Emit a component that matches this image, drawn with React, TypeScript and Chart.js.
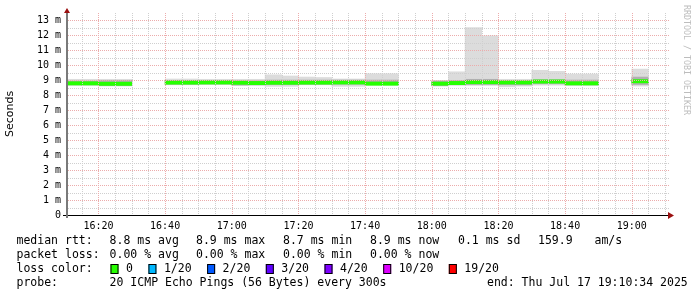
import { useEffect, useRef } from 'react';
import { Chart, registerables } from 'chart.js';
Chart.register(...registerables);

// 5-minute bins that hold data (gaps are simply absent)
const binStarts = ['16:10','16:15','16:20','16:25','16:40','16:45','16:50','16:55','17:00','17:05','17:10','17:15','17:20','17:25','17:30','17:35','17:40','17:45','18:00','18:05','18:10','18:15','18:20','18:25','18:30','18:35','18:40','18:45','19:00'];
const smokeMax  = [9.05,9.05,9.05,9.05,9.07,9.07,9.05,9.05,9.05,9.05,9.35,9.27,9.20,9.17,9.07,9.07,9.42,9.42,8.98,9.55,12.50,11.95,9.05,9.05,9.65,9.58,9.40,9.40,9.73];
const bandHigh  = [8.93,8.93,8.98,8.98,8.98,8.98,8.97,8.97,8.95,8.95,9.00,9.00,9.00,9.00,9.00,9.00,9.00,9.00,8.93,8.98,9.05,9.05,8.95,8.95,9.02,9.02,9.00,9.00,9.20];
const medianRtt = [8.78,8.78,8.75,8.75,8.83,8.83,8.84,8.84,8.82,8.80,8.82,8.82,8.83,8.83,8.84,8.84,8.76,8.76,8.76,8.80,8.86,8.86,8.84,8.84,8.90,8.90,8.78,8.78,8.92];
const bandLow   = [8.68,8.68,8.63,8.63,8.72,8.72,8.74,8.74,8.66,8.68,8.70,8.70,8.72,8.72,8.72,8.72,8.70,8.70,8.62,8.70,8.70,8.70,8.68,8.68,8.75,8.75,8.68,8.68,8.70];
const smokeMin  = [8.65,8.65,8.60,8.60,8.68,8.68,8.70,8.70,8.64,8.64,8.58,8.58,8.68,8.68,8.58,8.58,8.66,8.66,8.60,8.64,8.64,8.64,8.55,8.60,8.66,8.66,8.64,8.64,8.60];

const xTickLabels = ['16:20','16:40','17:00','17:20','17:40','18:00','18:20','18:40','19:00'];
const yTickValues = [0,1,2,3,4,5,6,7,8,9,10,11,12,13];
const rangeStart = '16:10:34';
const rangeEnd = '19:10:34';
const yMax = 13.47;

const rttStats = ['8.8 ms avg','8.9 ms max','8.7 ms min','8.9 ms now','0.1 ms sd','159.9','am/s'];
const lossStats = ['0.00 % avg','0.00 % max','0.00 % min','0.00 % now'];
const lossLabels = ['0','1/20','2/20','3/20','4/20','10/20','19/20'];
const lossColors = ['#26ff00','#00b8ff','#0059ff','#5e00ff','#7e00ff','#dd00ff','#ff0000'];
const probeText = '20 ICMP Echo Pings (56 Bytes) every 300s';
const endText = 'end: Thu Jul 17 19:10:34 2025';

const toMin = (s: string) => {
  const p = s.split(':').map(Number);
  return p[0] * 60 + p[1] + (p[2] || 0) / 60;
};
const fmt = (v: number) => {
  const h = Math.floor(v / 60);
  const m = Math.round(v - h * 60);
  return `${String(h).padStart(2, '0')}:${String(m).padStart(2, '0')}`;
};

const BIN = 5;
const MEDIAN_HALF = 0.11;
const MONO = '"DejaVu Sans Mono", monospace';

const decor = {
  id: 'decor',
  beforeDraw(chart: any) {
    const ctx = chart.ctx;
    ctx.save();
    ctx.fillStyle = '#ffffff';
    ctx.fillRect(0, 0, chart.width, chart.height);
    ctx.restore();
  },
  afterDatasetsDraw(chart: any) {
    const ctx = chart.ctx;
    const { left, right, top, bottom } = chart.chartArea;
    const xs = chart.scales.x;
    const ys = chart.scales.y;
    const t0 = toMin(rangeStart), t1 = toMin(rangeEnd);
    const L = Math.round(left), T = Math.round(top), B = Math.round(bottom), R = Math.round(right);
    ctx.save();
    // dotted grid, drawn pixel by pixel (1 on, 1 off)
    const vLine = (m: number) => {
      const px = Math.round(xs.getPixelForValue(m));
      for (let y = T; y < B; y += 2) ctx.fillRect(px, y, 1, 1);
    };
    const hLine = (v: number) => {
      const py = Math.round(ys.getPixelForValue(v));
      for (let x = L + 1; x <= R + 1; x += 2) ctx.fillRect(x, py, 1, 1);
    };
    const start = Math.ceil(t0 / 5) * 5;
    ctx.fillStyle = '#cfcfcf';
    for (let m = start; m <= t1; m += 5) if (m % 20 !== 0) vLine(m);
    for (let v = 0.5; v <= yMax; v += 0.5) if (!Number.isInteger(v)) hLine(v);
    ctx.fillStyle = '#ecacac';
    for (let m = start; m <= t1; m += 5) if (m % 20 === 0) vLine(m);
    for (let v = 1; v <= yMax; v += 1) hLine(v);
    // axes
    ctx.fillStyle = '#000000';
    ctx.fillRect(L - 4, B, R - L + 6, 1);
    ctx.fillStyle = '#7a7a7a';
    ctx.fillRect(L - 1, T - 2, 2, B - T + 5);
    // arrows
    ctx.fillStyle = '#9b1010';
    ctx.beginPath();
    ctx.moveTo(L, T - 5);
    ctx.lineTo(L - 3, T);
    ctx.lineTo(L + 3, T);
    ctx.closePath();
    ctx.fill();
    ctx.beginPath();
    ctx.moveTo(R + 7, B + 0.5);
    ctx.lineTo(R + 1, B - 3);
    ctx.lineTo(R + 1, B + 4);
    ctx.closePath();
    ctx.fill();
    ctx.restore();
  },
  afterDraw(chart: any) {
    const ctx = chart.ctx;
    ctx.save();
    ctx.font = `11.5px ${MONO}`;
    ctx.fillStyle = '#000000';
    ctx.textBaseline = 'middle';
    ctx.textAlign = 'left';
    const rows = [241, 255, 269, 283.5];
    const rttX = [109.6, 196, 283, 370, 458, 538, 594.5];
    const lossX = [109.6, 196, 283, 370];
    ctx.fillText('median rtt:', 16.5, rows[0]);
    rttStats.forEach((s, i) => ctx.fillText(s, rttX[i], rows[0]));
    ctx.fillText('packet loss:', 16.5, rows[1]);
    lossStats.forEach((s, i) => ctx.fillText(s, lossX[i], rows[1]));
    ctx.fillText('loss color:', 16.5, rows[2]);
    let x = 110.5;
    lossLabels.forEach((l, i) => {
      ctx.fillStyle = lossColors[i];
      ctx.fillRect(x, rows[2] - 5, 8, 10);
      ctx.strokeStyle = '#000000';
      ctx.lineWidth = 1;
      ctx.strokeRect(x + 0.5, rows[2] - 4.5, 7, 9);
      ctx.fillStyle = '#000000';
      const lx = x + 15.5;
      ctx.fillText(l, lx, rows[2]);
      x = lx + ctx.measureText(l).width + 15.5;
    });
    ctx.fillText('probe:', 16.5, rows[3]);
    ctx.fillText(probeText, 109.6, rows[3]);
    ctx.fillText(endText, 487, rows[3]);
    // watermark
    ctx.font = `8.3px ${MONO}`;
    ctx.fillStyle = '#bdbdbd';
    ctx.translate(686, 5);
    ctx.rotate(Math.PI / 2);
    ctx.textBaseline = 'middle';
    ctx.fillText('RRDTOOL / TOBI OETIKER', 0, 0);
    ctx.restore();
  },
};

export default function App() {
  const ref = useRef<HTMLCanvasElement | null>(null);
  useEffect(() => {
    if (!ref.current) return;
    const centers = binStarts.map((b) => toMin(b) + BIN / 2);
    const range = (lo: number[], hi: number[]) => centers.map((c, i) => ({ x: c, y: [lo[i], hi[i]] }));
    const common = {
      type: 'bar' as const,
      grouped: false,
      barPercentage: 1,
      categoryPercentage: 1,
      borderWidth: 0,
      clip: 0,
    };
    const chart = new Chart(ref.current, {
      type: 'bar',
      data: {
        datasets: [
          {
            ...common,
            label: 'median',
            data: centers.map((c, i) => ({ x: c, y: [medianRtt[i] - MEDIAN_HALF, medianRtt[i] + MEDIAN_HALF] })),
            backgroundColor: '#26ff00',
          },
          { ...common, label: 'band', data: range(bandLow, bandHigh), backgroundColor: '#b0b0b0' },
          { ...common, label: 'smoke', data: range(smokeMin, smokeMax), backgroundColor: '#dcdcdc' },
        ] as any,
      },
      options: {
        animation: false,
        responsive: false,
        devicePixelRatio: 1,
        layout: { padding: { top: 13, right: 30, left: 0, bottom: 0 } },
        plugins: { legend: { display: false }, tooltip: { enabled: false }, title: { display: false } },
        scales: {
          x: {
            type: 'linear',
            min: toMin(rangeStart),
            max: toMin(rangeEnd),
            offset: false,
            grid: { display: false, drawTicks: false },
            border: { display: false },
            afterBuildTicks: (s: any) => {
              s.ticks = xTickLabels.map((l) => ({ value: toMin(l) }));
            },
            afterFit: (s: any) => {
              s.height = 82;
            },
            ticks: {
              padding: 5,
              autoSkip: false,
              maxRotation: 0,
              color: '#000000',
              font: { family: MONO, size: 10 },
              callback: (v: any) => fmt(Number(v)),
            },
          },
          y: {
            type: 'linear',
            min: 0,
            max: yMax,
            grid: { display: false, drawTicks: false },
            border: { display: false },
            afterBuildTicks: (s: any) => {
              s.ticks = yTickValues.map((v) => ({ value: v }));
            },
            afterFit: (s: any) => {
              s.width = 67;
            },
            ticks: {
              padding: 6,
              color: '#000000',
              font: { family: MONO, size: 10 },
              callback: (v: any) => (Number(v) === 0 ? '0' : `${v} m`),
            },
            title: {
              display: true,
              text: 'Seconds',
              color: '#000000',
              font: { family: '"DejaVu Sans", sans-serif', size: 11 },
              padding: { top: 4, bottom: 0 },
            },
          },
        },
      } as any,
      plugins: [decor],
    });
    return () => chart.destroy();
  }, []);
  return (
    <div style={{ position: 'absolute', left: 0, top: 0, width: 697, height: 297 }}>
      <canvas ref={ref} width={697} height={297} style={{ width: 697, height: 297, display: 'block' }} />
    </div>
  );
}
